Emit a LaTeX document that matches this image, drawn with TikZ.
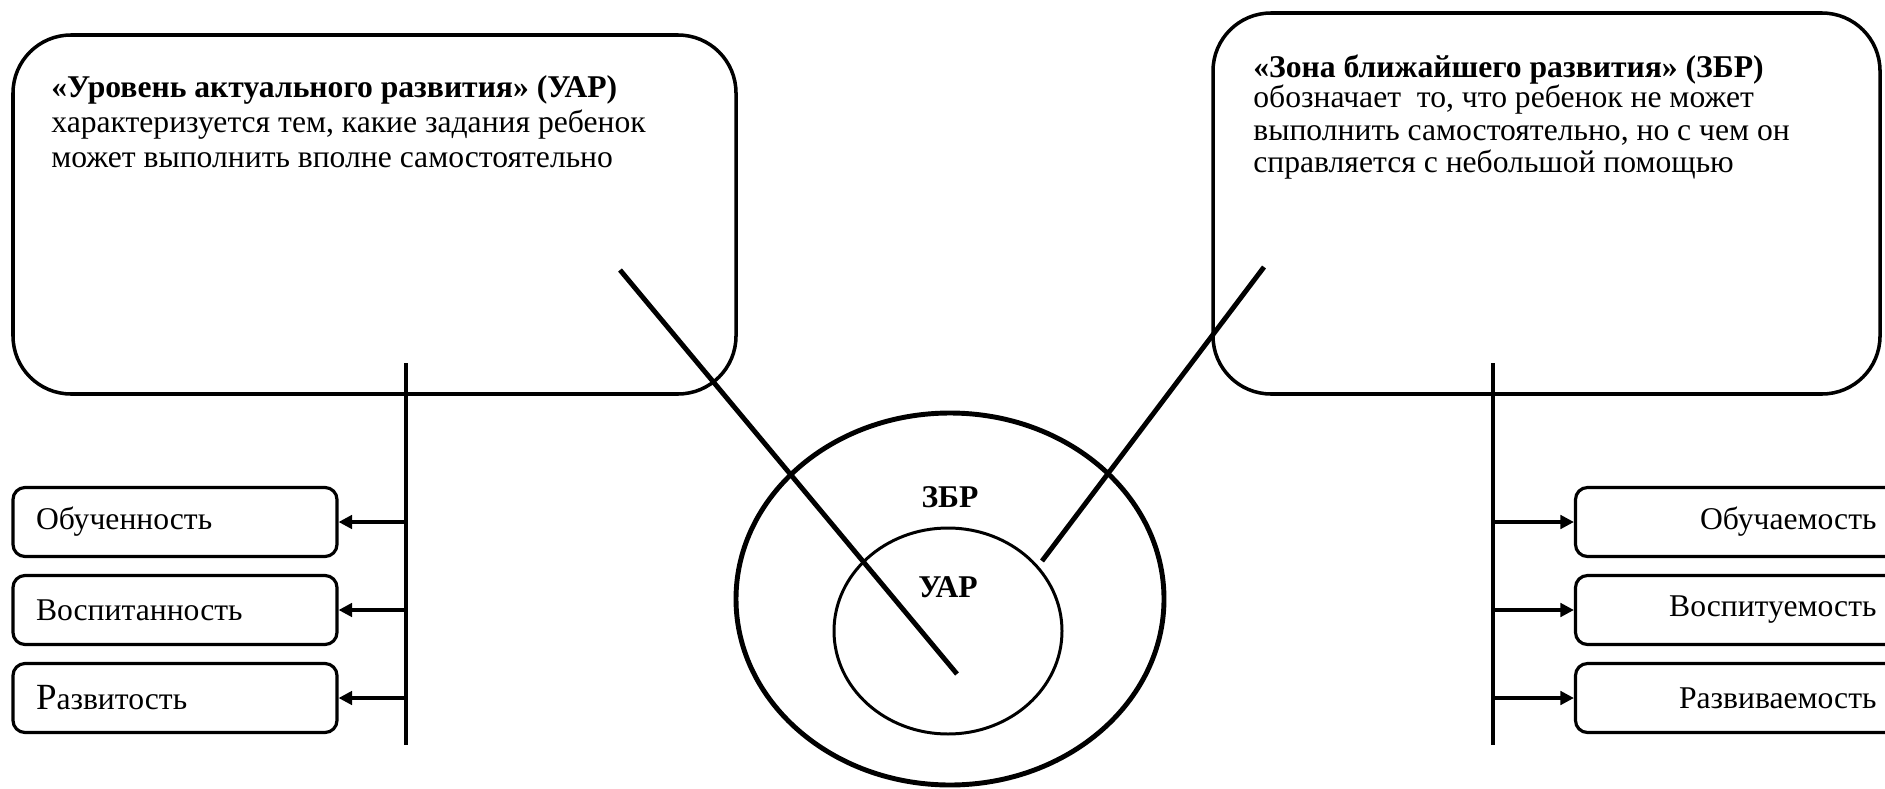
\documentclass[tikz,border=0pt]{standalone}
\usepackage{fontspec}
\setmainfont{Liberation Serif}
\usetikzlibrary{arrows.meta}

\tikzset{
  bigbox/.style={draw, line width=2pt, rounded corners=1.16cm},
  txt/.style={anchor=base west, inner sep=0pt, font=\fontsize{18}{20}\selectfont},
  smallbox/.style={draw, line width=1.8pt, rounded corners=0.24cm, minimum height=1.38cm,
    inner xsep=0.46cm, text width=5.56cm, font=\fontsize{18}{20}\selectfont},
  vline/.style={line width=2pt},
  arr/.style={line width=1.8pt, -{Triangle[length=0.27cm,width=0.27cm]}},
  pointer/.style={line width=2.8pt},
  zone/.style={font=\bfseries\fontsize{18}{20}\selectfont},
}

\begin{document}
\begin{tikzpicture}
\useasboundingbox (0,0) rectangle (37.7,-15.76);

\draw[bigbox] (0.26,-0.70) rectangle (14.72,-7.88);
\node[txt] (uar1) at (1.02,-1.95) {\textbf{«Уровень актуального развития» (УАР)}};
\node[txt] (uar2) at (1.02,-2.65) {характеризуется тем, какие задания ребенок};
\node[txt] (uar3) at (1.02,-3.35) {может выполнить вполне самостоятельно};

\draw[bigbox] (24.26,-0.26) rectangle (37.60,-7.88);
\node[txt] (zbr1) at (25.06,-1.54) {\textbf{«Зона ближайшего развития» (ЗБР)}};
\node[txt] (zbr2) at (25.06,-2.14) {обозначает\ \ то, что ребенок не может};
\node[txt] (zbr3) at (25.06,-2.80) {выполнить самостоятельно, но с чем он};
\node[txt] (zbr4) at (25.06,-3.45) {справляется с небольшой помощью};

\node[smallbox, align=left] (obuch) at (3.50,-10.44) {Обученность};
\node[smallbox, align=left] (vosp) at (3.50,-12.20) {Воспитанность};
\node[smallbox, align=left] (razv) at (3.50,-13.96) {{\fontsize{21}{20}\selectfont Р}азвитость};

\coordinate (lt) at (8.12,-7.26);
\coordinate (lb) at (8.12,-14.90);
\draw[vline] (lt) -- (lb);
\draw[arr] (lt |- obuch.east) -- (obuch.east);
\draw[arr] (lt |- vosp.east) -- (vosp.east);
\draw[arr] (lt |- razv.east) -- (razv.east);

\node[smallbox, align=right] (obuchm) at (34.75,-10.44) {Обучаемость};
\node[smallbox, align=right] (vospm) at (34.75,-12.20) {Воспитуемость};
\node[smallbox, align=right] (razvm) at (34.75,-13.96) {Развиваемость};

\coordinate (rt) at (29.86,-7.26);
\coordinate (rb) at (29.86,-14.90);
\draw[vline] (rt) -- (rb);
\draw[arr] (rt |- obuchm.west) -- (obuchm.west);
\draw[arr] (rt |- vospm.west) -- (vospm.west);
\draw[arr] (rt |- razvm.west) -- (razvm.west);

\draw[line width=2.8pt] (19.0,-11.98) ellipse [x radius=4.28, y radius=3.72];
\draw[line width=1.7pt] (18.96,-12.62) ellipse [x radius=2.28, y radius=2.06];
\node[zone] (zbr) at (19.0,-9.94) {ЗБР};
\node[zone] (uar) at (18.96,-11.74) {УАР};

\coordinate (p1) at (12.40,-5.40);
\coordinate (p2) at (19.14,-13.48);
\draw[pointer] (p1) -- (p2);
\coordinate (q1) at (25.28,-5.34);
\coordinate (q2) at (20.84,-11.22);
\draw[pointer] (q1) -- (q2);

\end{tikzpicture}
\end{document}
